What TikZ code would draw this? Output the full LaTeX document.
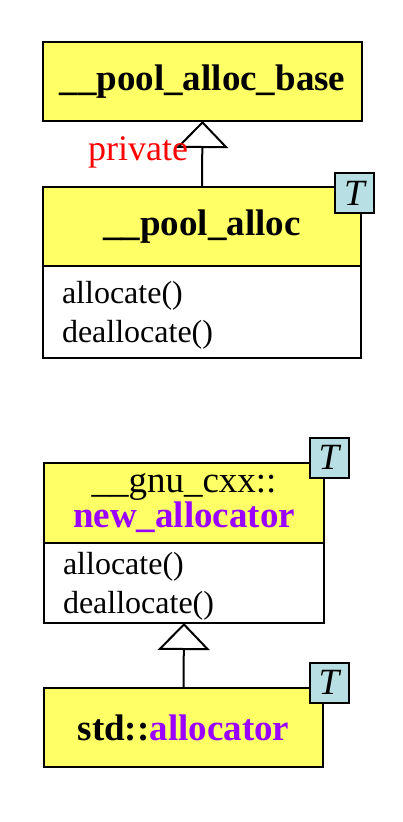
\documentclass[tikz,border=0pt]{standalone}
\usepackage{fontspec}
\setmainfont{Liberation Serif}
\usetikzlibrary{arrows.meta,positioning}
\definecolor{clsyellow}{HTML}{FFFF66}
\definecolor{tparam}{HTML}{B8E0E4}
\definecolor{tname}{HTML}{9900FF}

\begin{document}
\begin{tikzpicture}[x=1pt,y=-1pt,line width=2pt,
 head/.style={draw,fill=clsyellow,minimum height=79pt,inner sep=0pt,outer sep=0pt,align=center,
  font=\fontsize{37}{30}\selectfont\bfseries},
 body/.style={draw,fill=white,anchor=north west,align=left,inner xsep=19pt,inner ysep=0pt,
  outer sep=0pt,font=\fontsize{32}{39}\selectfont},
 tbox/.style={draw,fill=tparam,minimum width=39pt,minimum height=40pt,inner sep=0pt,
  font=\fontsize{37}{37}\selectfont\itshape},
 inherit/.style={-{Triangle[open,length=27pt,width=52pt,fill=white]}}]
 \useasboundingbox (0,0) rectangle (403,822);
 % upper pair
 \node[head,minimum width=319pt] (base) at (202.5,81.5) {\_\_pool\_alloc\_base};
 \node[head,minimum width=318pt] (pool) at (202,226.5) {\_\_pool\_alloc};
 \node[body,text width=280pt,minimum height=92pt] (poolops) at (pool.south west)
  {\rule{0pt}{28pt}allocate()\\deallocate()};
 \draw[inherit] (pool.north) -- (base.south);
 \node[text=red,font=\fontsize{36}{36}\selectfont] (priv) at (138,152) {private};
 \node[tbox] (poolT) at (354.5,193) {T};
 % lower pair
 \node[head,minimum width=280pt,minimum height=80pt] (newalloc) at (184,503)
  {{\mdseries\_\_gnu\_cxx::}\\\textcolor{tname}{new\_allocator}};
 \node[body,text width=242pt,minimum height=80pt] (newops) at (newalloc.south west)
  {\rule{0pt}{28pt}allocate()\\deallocate()};
 \node[head,minimum width=279pt] (stdalloc) at (183.5,727.5)
  {std::\textcolor{tname}{allocator}};
 \draw[inherit] (stdalloc.north) -- (newops.south);
 \node[tbox] (newT) at (329,457.5) {T};
 \node[tbox] (stdT) at (329,682.5) {T};
\end{tikzpicture}
\end{document}
